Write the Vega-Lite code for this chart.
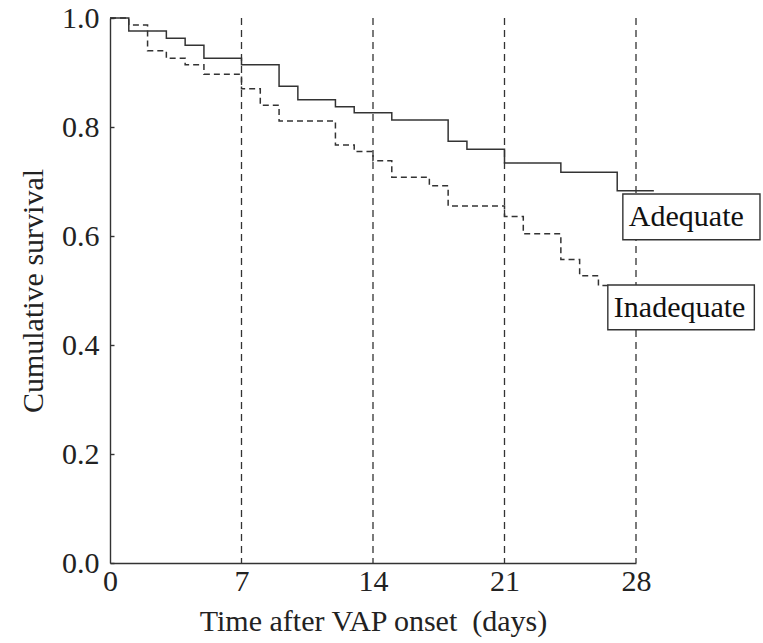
{
  "$schema": "https://vega.github.io/schema/vega-lite/v6.json",
  "width": 526,
  "height": 545,
  "autosize": {"type": "none"},
  "padding": {"left": 110, "top": 18, "right": 127, "bottom": 80},
  "background": "white",
  "config": {
    "view": {"stroke": null},
    "font": "Liberation Serif",
    "axis": {
      "labelFont": "Liberation Serif",
      "titleFont": "Liberation Serif",
      "labelFontSize": 30,
      "titleFontSize": 30,
      "labelColor": "#222",
      "titleColor": "#222",
      "titleFontWeight": "normal",
      "domainColor": "#333",
      "domainWidth": 1.4,
      "tickColor": "#333",
      "tickWidth": 1.4,
      "grid": false
    }
  },
  "datasets": {
    "curves": [
      {"group": "Adequate", "day": 0, "surv": 1.0},
      {"group": "Adequate", "day": 1, "surv": 0.976},
      {"group": "Adequate", "day": 3, "surv": 0.963},
      {"group": "Adequate", "day": 4, "surv": 0.95},
      {"group": "Adequate", "day": 5, "surv": 0.926},
      {"group": "Adequate", "day": 7, "surv": 0.914},
      {"group": "Adequate", "day": 9, "surv": 0.875},
      {"group": "Adequate", "day": 10, "surv": 0.85},
      {"group": "Adequate", "day": 12, "surv": 0.837},
      {"group": "Adequate", "day": 13, "surv": 0.826},
      {"group": "Adequate", "day": 15, "surv": 0.813},
      {"group": "Adequate", "day": 18, "surv": 0.774},
      {"group": "Adequate", "day": 19, "surv": 0.759},
      {"group": "Adequate", "day": 21, "surv": 0.734},
      {"group": "Adequate", "day": 24, "surv": 0.717},
      {"group": "Adequate", "day": 27, "surv": 0.683},
      {"group": "Adequate", "day": 28.95, "surv": 0.683},
      {"group": "Inadequate", "day": 0, "surv": 1.0},
      {"group": "Inadequate", "day": 1, "surv": 0.987},
      {"group": "Inadequate", "day": 2, "surv": 0.94},
      {"group": "Inadequate", "day": 3, "surv": 0.926},
      {"group": "Inadequate", "day": 4, "surv": 0.914},
      {"group": "Inadequate", "day": 5, "surv": 0.897},
      {"group": "Inadequate", "day": 7, "surv": 0.87},
      {"group": "Inadequate", "day": 8, "surv": 0.84},
      {"group": "Inadequate", "day": 9, "surv": 0.811},
      {"group": "Inadequate", "day": 12, "surv": 0.767},
      {"group": "Inadequate", "day": 13, "surv": 0.755},
      {"group": "Inadequate", "day": 14, "surv": 0.738},
      {"group": "Inadequate", "day": 15, "surv": 0.708},
      {"group": "Inadequate", "day": 17, "surv": 0.692},
      {"group": "Inadequate", "day": 18, "surv": 0.655},
      {"group": "Inadequate", "day": 21, "surv": 0.636},
      {"group": "Inadequate", "day": 22, "surv": 0.604},
      {"group": "Inadequate", "day": 24, "surv": 0.557},
      {"group": "Inadequate", "day": 25, "surv": 0.527},
      {"group": "Inadequate", "day": 26, "surv": 0.509},
      {"group": "Inadequate", "day": 26.6, "surv": 0.509}
    ],
    "weeks": [{"day": 7}, {"day": 14}, {"day": 21}, {"day": 28}],
    "labels": [
      {"label": "Adequate", "x1": 27.3, "x2": 34.6, "y1": 0.677, "y2": 0.593},
      {"label": "Inadequate", "x1": 26.5, "x2": 34.3, "y1": 0.51, "y2": 0.428}
    ]
  },
  "layer": [
    {
      "data": {"name": "weeks"},
      "mark": {"type": "rule", "color": "#333", "strokeWidth": 1.3, "strokeDash": [7, 5]},
      "encoding": {
        "x": {
          "field": "day", "type": "quantitative",
          "scale": {"domain": [0, 28], "nice": false, "zero": false},
          "axis": {
            "values": [0, 7, 14, 21, 28],
            "title": "Time after VAP onset\u00a0 (days)",
            "ticks": false,
            "labelPadding": 3,
            "titlePadding": 10,
            "labelFlush": false
          }
        }
      }
    },
    {
      "mark": {"type": "rule", "color": "#333", "strokeWidth": 1.4},
      "encoding": {"y": {"datum": 1, "type": "quantitative"}}
    },
    {
      "data": {"name": "curves"},
      "mark": {"type": "line", "interpolate": "step-after", "color": "#333", "strokeWidth": 1.5},
      "encoding": {
        "x": {"field": "day", "type": "quantitative"},
        "y": {
          "field": "surv", "type": "quantitative",
          "scale": {"domain": [0, 1], "nice": false},
          "axis": {
            "values": [0, 0.2, 0.4, 0.6, 0.8, 1.0],
            "format": ".1f",
            "title": "Cumulative survival",
            "tickSize": -4,
            "labelPadding": 15,
            "titlePadding": 13,
            "labelFlush": false
          }
        },
        "detail": {"field": "group"},
        "strokeDash": {
          "field": "group", "type": "nominal",
          "scale": {"domain": ["Adequate", "Inadequate"], "range": [[1, 0], [6, 4]]},
          "legend": null
        }
      }
    },
    {
      "data": {"name": "labels"},
      "mark": {"type": "rect", "fill": "white", "stroke": "#333", "strokeWidth": 1.4},
      "encoding": {
        "x": {"field": "x1", "type": "quantitative"},
        "x2": {"field": "x2"},
        "y": {"field": "y1", "type": "quantitative"},
        "y2": {"field": "y2"}
      }
    },
    {
      "data": {"name": "labels"},
      "mark": {"type": "text", "align": "left", "baseline": "middle", "dx": 6, "dy": 23, "font": "Liberation Serif", "fontSize": 30, "color": "#111"},
      "encoding": {
        "x": {"field": "x1", "type": "quantitative"},
        "y": {"field": "y1", "type": "quantitative"},
        "text": {"field": "label"}
      }
    }
  ]
}
